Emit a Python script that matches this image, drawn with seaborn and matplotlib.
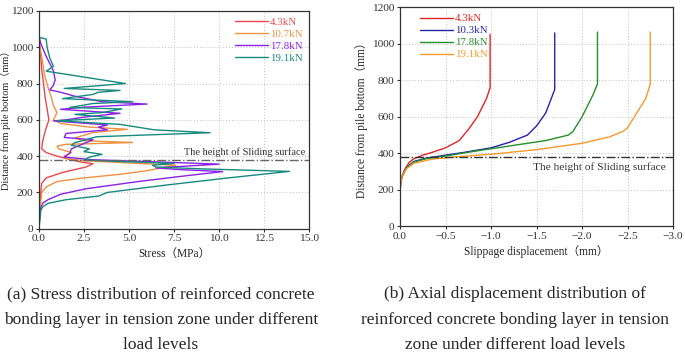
import matplotlib
matplotlib.use("Agg")
import matplotlib.pyplot as plt
import pandas as pd
import seaborn as sns

# ---- panel (a): stress vs height ----
LOADS_A = ["4.3kN", "10.7kN", "17.8kN", "19.1kN"]
COLORS_A = ["#e8474f", "#ee9240", "#8a22e6", "#178a80"]

red_h = [0, 100, 200, 250, 280, 310, 340, 358, 370, 385, 400, 420, 440, 480, 540,
         600, 660, 720, 800, 880, 950, 1000, 1050]
red_s = [0, 0.05, 0.1, 0.15, 0.4, 1.3, 2.6, 3.0, 2.2, 1.6, 1.0, 0.4, 0.15, 0.2, 0.35,
         0.55, 0.45, 0.35, 0.25, 0.15, 0.1, 0.05, 0]

orange_h = [0, 100, 200, 230, 260, 280, 300, 320, 350, 365, 375, 385, 400, 420, 440,
            455, 465, 475, 485, 500, 530, 548, 560, 580, 600, 640, 680, 720, 780, 850,
            920, 1000, 1050]
orange_s = [0, 0.05, 0.15, 0.4, 1.0, 2.5, 4.5, 6.0, 7.6, 4.5, 2.5, 1.6, 1.4, 1.8, 1.1,
            1.0, 1.5, 5.2, 2.5, 2.0, 3.0, 4.9, 2.8, 1.2, 0.8, 1.0, 0.8, 0.7, 0.5, 0.3,
            0.2, 0.05, 0]

purple_h = [0, 100, 140, 160, 190, 220, 260, 290, 315, 325, 335, 356, 370, 380, 395,
            415, 440, 470, 490, 503, 525, 545, 560, 572, 594, 600, 615, 636, 658, 670,
            687, 700, 730, 752, 765, 790, 820, 870, 950, 1020, 1062]
purple_s = [0, 0.05, 0.2, 0.5, 1.2, 2.6, 5.5, 8.0, 10.2, 8.0, 6.5, 10.0, 6.0, 3.0, 1.4,
            1.7, 1.8, 2.5, 3.0, 1.4, 1.5, 3.8, 3.3, 3.8, 0.8, 1.5, 2.5, 4.5, 1.2, 2.5,
            6.0, 3.5, 2.0, 1.2, 0.6, 0.8, 0.9, 0.8, 0.4, 0.1, 0]

teal_h = [0, 100, 120, 140, 160, 180, 200, 240, 280, 316, 330, 340, 350, 360, 372,
          380, 395, 410, 425, 440, 460, 475, 490, 507, 529, 545, 575, 595, 610, 630,
          640, 660, 668, 690, 700, 717, 740, 752, 762, 773, 800, 868, 895, 940, 1000,
          1045, 1055]
teal_s = [0, 0.1, 0.2, 0.5, 1.5, 3.3, 3.8, 7.0, 10.5, 13.9, 9.0, 6.5, 6.3, 7.5, 4.0,
          2.5, 2.8, 3.5, 2.5, 2.8, 1.8, 2.0, 2.6, 3.2, 9.5, 6.4, 4.5, 1.0, 4.2, 2.0,
          3.5, 4.6, 1.7, 3.0, 5.2, 1.3, 3.0, 3.3, 4.5, 1.4, 4.8, 0.4, 0.8, 0.6, 0.45,
          0.4, 0]

# ---- panel (b): slippage displacement vs height ----
LOADS_B = ["4.3kN", "10.3kN", "17.8kN", "19.1kN"]
COLORS_B = ["#e02424", "#2424a8", "#23902a", "#f39a2a"]

red_b_h = [180, 230, 270, 310, 350, 370, 390, 405, 430, 470, 530, 600, 700, 760, 1052]
red_b_d = [0, -0.005, -0.02, -0.05, -0.1, -0.15, -0.25, -0.35, -0.5, -0.65, -0.75,
           -0.85, -0.95, -0.99, -0.99]

blue_b_h = [180, 230, 270, 320, 355, 375, 390, 405, 430, 460, 500, 550, 620, 750, 1060]
blue_b_d = [0, -0.005, -0.02, -0.07, -0.15, -0.3, -0.5, -0.7, -1.0, -1.2, -1.4, -1.5,
            -1.6, -1.7, -1.7]

green_b_h = [180, 230, 270, 320, 352, 372, 385, 410, 440, 470, 500, 520, 600, 720, 780,
             1065]
green_b_d = [0, -0.005, -0.02, -0.07, -0.15, -0.3, -0.5, -0.8, -1.2, -1.6, -1.85, -1.9,
             -2.0, -2.12, -2.17, -2.17]

orange_b_h = [180, 230, 270, 315, 345, 368, 380, 395, 420, 455, 490, 520, 540, 620, 700,
              780, 1065]
orange_b_d = [0, -0.005, -0.02, -0.07, -0.15, -0.35, -0.6, -1.0, -1.5, -2.0, -2.3,
              -2.45, -2.5, -2.6, -2.7, -2.75, -2.75]

SLIDE_H = 380

CAPTION_A = ("(a) Stress distribution of reinforced concrete\n"
             "bonding layer in tension zone under different\nload levels")
CAPTION_B = ("(b) Axial displacement distribution of\n"
             "reinforced concrete bonding layer in tension\n"
             "zone under different load levels")


def long_frame(loads, xs, hs, xname):
    parts = []
    for load, x, h in zip(loads, xs, hs):
        parts.append(pd.DataFrame({xname: x, "height": h, "load": load}))
    return pd.concat(parts, ignore_index=True)


df_a = long_frame(LOADS_A, [red_s, orange_s, purple_s, teal_s],
                  [red_h, orange_h, purple_h, teal_h], "stress")
df_b = long_frame(LOADS_B, [red_b_d, blue_b_d, green_b_d, orange_b_d],
                  [red_b_h, blue_b_h, green_b_h, orange_b_h], "disp")

sns.set_style("ticks")
plt.rcParams["font.family"] = ["Liberation Serif", "Noto Sans CJK SC"]

fig = plt.figure(figsize=(6.85, 3.53), dpi=100)
ax1 = fig.add_axes([0.0569, 0.352, 0.3945, 0.617])
ax2 = fig.add_axes([0.584, 0.359, 0.3985, 0.620])

TICK_FS = 8.2
LABEL_FS = 8.3


def style_axes(ax):
    ax.grid(True, linestyle=(0, (1, 2)), color="#c0c0c0", linewidth=0.7)
    ax.set_axisbelow(True)
    for sp in ax.spines.values():
        sp.set_color("#333333")
        sp.set_linewidth(0.9)
    ax.tick_params(direction="out", length=2.5, width=0.8, labelsize=TICK_FS,
                   colors="#333333", pad=1.5)
    ax.set_ylim(0, 1200)
    ax.set_yticks(range(0, 1201, 200))


def colored_legend(ax, loc, anchor):
    leg = ax.legend(loc=loc, bbox_to_anchor=anchor, frameon=False, fontsize=7.8,
                    handlelength=3.0, handletextpad=0.2, labelspacing=0.22,
                    borderaxespad=0.2)
    for line, text in zip(leg.get_lines(), leg.get_texts()):
        text.set_color(line.get_color())
    return leg


# panel (a)
sns.lineplot(data=df_a, x="stress", y="height", hue="load", units="load",
             estimator=None, sort=False, palette=dict(zip(LOADS_A, COLORS_A)),
             linewidth=1.0, ax=ax1)
style_axes(ax1)
ax1.set_xlim(0, 15)
ax1.set_xticks([0, 2.5, 5, 7.5, 10, 12.5, 15])
ax1.set_xticklabels(["0.0", "2.5", "5.0", "7.5", "10.0", "12.5", "15.0"])
ax1.axhline(SLIDE_H, color="#666666", linestyle="-.", linewidth=1.0)
ax1.text(14.8, SLIDE_H + 18, "The height of Sliding surface", ha="right",
         va="bottom", fontsize=7.5, color="#333333")
ax1.set_xlabel("Stress（MPa）", fontsize=LABEL_FS, labelpad=3)
ax1.set_ylabel("Distance from pile bottom（mm）", fontsize=7.4)
ax1.yaxis.set_label_coords(-0.103, 0.51)
colored_legend(ax1, "upper right", (1.0, 1.0))

# panel (b)
sns.lineplot(data=df_b, x="disp", y="height", hue="load", units="load",
             estimator=None, sort=False, palette=dict(zip(LOADS_B, COLORS_B)),
             linewidth=1.0, ax=ax2)
style_axes(ax2)
ax2.set_xlim(0, -3.0)
ax2.set_xticks([0, -0.5, -1.0, -1.5, -2.0, -2.5, -3.0])
ax2.set_xticklabels(["0.0", "\u22120.5", "\u22121.0", "\u22121.5", "\u22122.0",
                     "\u22122.5", "\u22123.0"])
ax2.axhline(SLIDE_H, color="#333333", linestyle="-.", linewidth=1.0)
ax2.text(-2.92, SLIDE_H - 30, "The height of Sliding surface", ha="right",
         va="top", fontsize=8.2, color="#333333")
ax2.set_xlabel("Slippage displacement（mm）", fontsize=LABEL_FS, labelpad=3)
ax2.set_ylabel("Distance from pile bottom（mm）", fontsize=LABEL_FS, labelpad=3)
colored_legend(ax2, "upper left", (0.05, 1.0))

fig.text(0.235, 0.19, CAPTION_A, ha="center", va="top", fontsize=12.5,
         linespacing=1.8, multialignment="center")
fig.text(0.752, 0.19, CAPTION_B, ha="center", va="top", fontsize=12.5,
         linespacing=1.8, multialignment="center")

fig.savefig("out.png", dpi=100)
